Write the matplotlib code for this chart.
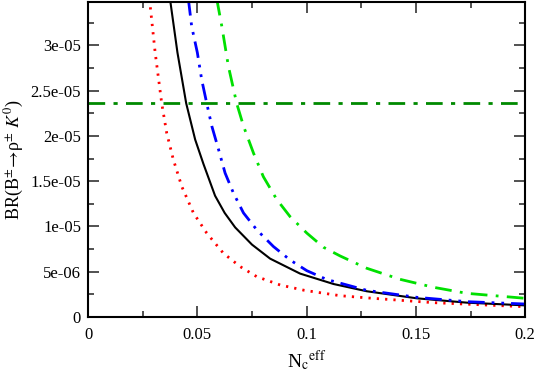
import numpy as np
import matplotlib
matplotlib.use('Agg')
import matplotlib.pyplot as plt

plt.rcParams['font.family'] = ['Liberation Serif', 'DejaVu Serif']
plt.rcParams['mathtext.fontset'] = 'stix'

# values (BR in units of 1e-5)
x_red = [0.0272, 0.0281, 0.0307, 0.0337, 0.036, 0.039, 0.0429, 0.0482, 0.0543, 0.0619, 0.0696,
         0.0772, 0.0879, 0.0990, 0.1153, 0.1275, 0.158, 0.2]
y_red = [3.75, 3.51, 2.92, 2.36, 2.03, 1.74, 1.44, 1.15, 0.927, 0.705, 0.557,
         0.446, 0.354, 0.295, 0.236, 0.212, 0.159, 0.114]

x_black = [0.0368, 0.0375, 0.0409, 0.0449, 0.049, 0.0528, 0.0581, 0.0625, 0.0673, 0.075, 0.0833, 0.097,
           0.1123, 0.1275, 0.1504, 0.1733, 0.2]
y_black = [3.75, 3.51, 2.92, 2.36, 1.96, 1.69, 1.34, 1.15, 0.99, 0.80, 0.645, 0.48,
           0.365, 0.285, 0.207, 0.159, 0.129]

x_blue = [0.0452, 0.0459, 0.0474, 0.05, 0.052, 0.0543, 0.0566, 0.0597, 0.0627, 0.0665, 0.0711,
          0.0772, 0.0848, 0.0924, 0.1001, 0.1092, 0.1275, 0.1504, 0.1733, 0.2]
y_blue = [3.75, 3.51, 3.21, 2.92, 2.62, 2.36, 2.11, 1.85, 1.59, 1.37, 1.15,
          0.963, 0.779, 0.631, 0.512, 0.415, 0.295, 0.218, 0.17, 0.144]

x_green = [0.0582, 0.0589, 0.0612, 0.0642, 0.068, 0.0711, 0.0757, 0.0802, 0.0863, 0.0924, 0.1001,
           0.1077, 0.1153, 0.1275, 0.1427, 0.158, 0.1733, 0.2]
y_green = [3.75, 3.51, 3.21, 2.77, 2.36, 2.11, 1.81, 1.55, 1.30, 1.11, 0.927,
           0.771, 0.675, 0.539, 0.417, 0.329, 0.262, 0.207]

br_exp = 2.36  # horizontal line

yticks = [0, 0.5, 1.0, 1.5, 2.0, 2.5, 3.0]
ylabels = ['0', '5e-06', '1e-05', '1.5e-05', '2e-05', '2.5e-05', '3e-05']
xticks = [0, 0.05, 0.1, 0.15, 0.2]
xlabels = ['0', '0.05', '0.1', '0.15', '0.2']

fig = plt.figure(figsize=(5.37, 3.82), dpi=100)
ax = fig.add_axes([0.164, 0.170, 0.814, 0.825])

ax.plot(x_red, y_red, color='#ff0000', lw=2, dashes=(0.8, 2.2))
ax.plot(x_black, y_black, color='black', lw=1.5)
ax.plot(x_blue, y_blue, color='#0000ff', lw=2, dashes=(6, 2.5, 1, 2.5, 1, 2.5))
ax.plot(x_green, y_green, color='#00e000', lw=2, dashes=(6, 3, 1, 3))
ax.axhline(br_exp, color='#008a00', lw=2, dashes=(6, 3, 1.5, 3))

ax.set_xlim(0, 0.2)
ax.set_ylim(0, 3.48)
ax.set_xticks(xticks)
ax.set_xticklabels(xlabels)
ax.set_xticks(np.arange(0.025, 0.2, 0.05), minor=True)
ax.set_yticks(yticks)
ax.set_yticklabels(ylabels)
ax.set_yticks(np.arange(0.25, 3.48, 0.5), minor=True)

ax.tick_params(which='both', direction='in', top=True, right=True, labelsize=12, width=1.2, color='#333333')
ax.tick_params(which='major', length=8)
ax.tick_params(axis='x', which='major', pad=7)
ax.tick_params(axis='y', which='major', pad=5)
ax.tick_params(which='minor', length=4)
for s in ax.spines.values():
    s.set_linewidth(1.5)

ax.set_xlabel(r'N$_\mathrm{c}$$^\mathrm{eff}$', fontsize=14, labelpad=4)
ax.set_ylabel(r'BR(B$^{\pm}\!\rightarrow\!$ρ$^{\pm}$ $K^{0}$)', fontsize=13, labelpad=3)

fig.savefig('out.png', dpi=100)
